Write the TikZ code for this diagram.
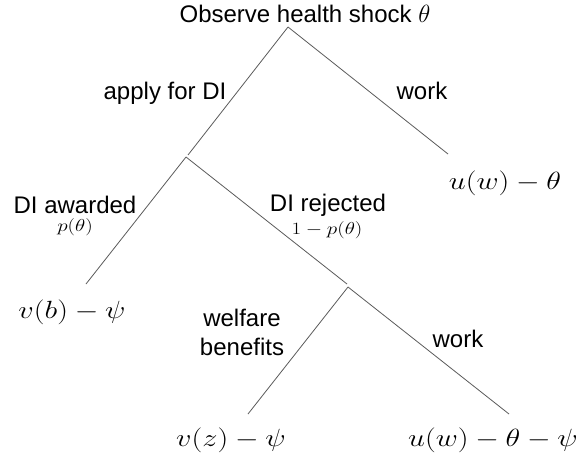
\documentclass[tikz,border=0pt]{standalone}
\usepackage{fontspec}
\usepackage{graphicx}
\setmainfont{Liberation Sans}
\definecolor{edgegray}{HTML}{5A5A5A}
\tikzset{
  edge/.style={draw=edgegray, line width=0.8pt},
  lbl/.style={inner sep=0pt, font=\fontsize{24}{29}\selectfont, align=center},
  leaf/.style={inner sep=0pt, font=\fontsize{24}{29}\selectfont},
  prob/.style={inner sep=0pt, font=\fontsize{16}{19}\selectfont},
}
\newcommand{\wm}[1]{\scalebox{1.22}[1]{$#1$}}
\begin{document}
\begin{tikzpicture}[x=1pt, y=-1pt]
\useasboundingbox (0,0) rectangle (576,460);
% tree points
\coordinate (root) at (288,27);
\coordinate (n1in) at (188,155);
\coordinate (n1) at (186,157);
\coordinate (n2in) at (347,284);
\coordinate (n2) at (348,287);
\coordinate (wend) at (448,154);
\coordinate (aend) at (86,284);
\coordinate (fend) at (248,414);
\coordinate (w2end) at (509,414);
% edges
\draw[edge] (root) -- (n1in);
\draw[edge] (root) -- (wend);
\draw[edge] (n1) -- (aend);
\draw[edge] (n1) -- (n2in);
\draw[edge] (n2) -- (fend);
\draw[edge] (n2) -- (w2end);
% labels
\node[lbl] (title) at (305,14) {Observe health shock $\theta$};
\node[lbl] (applylbl) at (165,93) {apply for DI};
\node[lbl] (worklbl) at (422,91) {work};
\node[lbl] (awardlbl) at (75,205) {DI awarded};
\node[prob] (pawd) at (75,227) {\wm{p(\theta)}};
\node[lbl] (rejlbl) at (328,205) {DI rejected};
\node[prob] (prej) at (327,230) {\wm{1-p(\theta)}};
\node[lbl] (welflbl) at (242,332) {welfare\\benefits};
\node[lbl] (work2lbl) at (458,339) {work};
% leaves
\node[leaf] (leafw) at (505,183) {\wm{u(w)-\theta}};
\node[leaf] (leafa) at (72,312) {\wm{v(b)-\psi}};
\node[leaf] (leaff) at (231,440) {\wm{v(z)-\psi}};
\node[leaf] (leafw2) at (493,440) {\wm{u(w)-\theta-\psi}};
\end{tikzpicture}
\end{document}
